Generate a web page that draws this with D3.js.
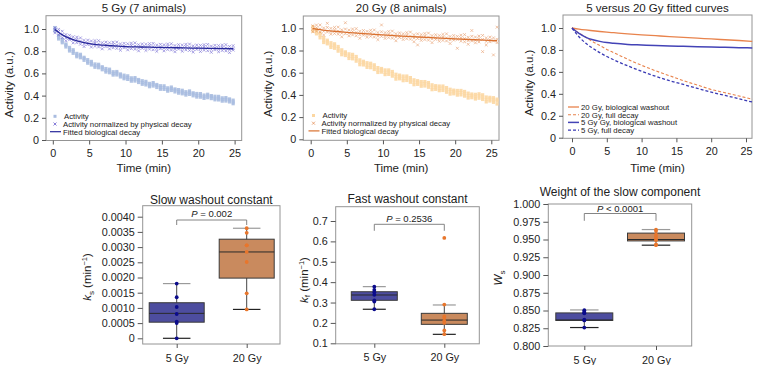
<!DOCTYPE html>
<html>
<head>
<meta charset="utf-8">
<script src="https://cdn.jsdelivr.net/npm/d3@7"></script>
<style>
  body { margin: 0; background: #fff; }
  svg { display: block; font-family: "Liberation Sans", Arial, sans-serif; }
</style>
</head>
<body>
<div id="chart"></div>
<script>
// ---- data ----
const timeTicks = [0, 5, 10, 15, 20, 25];
const actTicks  = [0, 0.2, 0.4, 0.6, 0.8, 1.0];

// 5 Gy: frame times (min) and three readings per frame
const time5 = [0.3,0.8,1.3,1.8,2.3,2.8,3.3,3.8,4.3,4.8,5.3,5.8,6.3,6.8,7.3,7.8,8.3,8.8,9.3,9.8,
  10.3,10.8,11.3,11.8,12.3,12.8,13.3,13.8,14.3,14.8,15.3,15.8,16.3,16.8,17.3,17.8,18.3,18.8,19.3,19.8,
  20.3,20.8,21.3,21.8,22.3,22.8,23.3,23.8,24.3,24.8];
const act5 = [
  [1.013,0.997,0.981],[0.940,0.924,0.910],[0.907,0.893,0.876],[0.855,0.838,0.865],[0.834,0.817,0.802],
  [0.813,0.797,0.781],[0.780,0.764,0.750],[0.772,0.758,0.741],[0.735,0.718,0.745],[0.724,0.707,0.692],
  [0.708,0.692,0.676],[0.685,0.669,0.655],[0.682,0.668,0.651],[0.650,0.633,0.660],[0.644,0.627,0.612],
  [0.638,0.622,0.606],[0.615,0.599,0.585],[0.617,0.603,0.586],[0.585,0.568,0.595],[0.584,0.567,0.552],
  [0.578,0.562,0.546],[0.560,0.544,0.530],[0.562,0.548,0.531],[0.535,0.518,0.545],[0.534,0.517,0.502],
  [0.528,0.512,0.496],[0.510,0.494,0.480],[0.517,0.503,0.486],[0.490,0.473,0.500],[0.489,0.472,0.457],
  [0.488,0.472,0.456],[0.470,0.454,0.440],[0.477,0.463,0.446],[0.450,0.433,0.460],[0.454,0.437,0.422],
  [0.448,0.432,0.416],[0.435,0.419,0.405],[0.442,0.428,0.411],[0.415,0.398,0.425],[0.419,0.402,0.387],
  [0.418,0.402,0.386],[0.405,0.389,0.375],[0.412,0.398,0.381],[0.390,0.373,0.400],[0.394,0.377,0.362],
  [0.393,0.377,0.361],[0.380,0.364,0.350],[0.382,0.368,0.351],[0.360,0.343,0.370],[0.359,0.342,0.327]
];
const norm5 = [
  [1.010,0.991,0.965],[0.977,0.947,0.997],[0.980,0.951,0.923],[0.920,0.950,0.894],[0.943,0.903,0.918],
  [0.930,0.901,0.875],[0.907,0.877,0.927],[0.920,0.891,0.863],[0.868,0.898,0.842],[0.900,0.860,0.875],
  [0.892,0.863,0.837],[0.875,0.845,0.895],[0.895,0.866,0.838],[0.847,0.877,0.821],[0.882,0.842,0.857],
  [0.876,0.847,0.821],[0.861,0.831,0.881],[0.882,0.853,0.825],[0.835,0.865,0.809],[0.871,0.831,0.846],
  [0.867,0.838,0.812],[0.853,0.823,0.873],[0.875,0.846,0.818],[0.829,0.859,0.803],[0.866,0.826,0.841],
  [0.862,0.833,0.807],[0.848,0.818,0.868],[0.870,0.841,0.813],[0.825,0.855,0.799],[0.862,0.822,0.837],
  [0.858,0.829,0.803],[0.845,0.815,0.865],[0.867,0.838,0.810],[0.821,0.851,0.795],[0.859,0.819,0.834],
  [0.855,0.826,0.800],[0.842,0.812,0.862],[0.864,0.835,0.807],[0.818,0.848,0.792],[0.856,0.816,0.831],
  [0.852,0.823,0.797],[0.839,0.809,0.859],[0.861,0.832,0.804],[0.816,0.846,0.790],[0.853,0.813,0.828],
  [0.850,0.821,0.795],[0.836,0.806,0.856],[0.859,0.830,0.802],[0.813,0.843,0.787],[0.850,0.810,0.825]
];
const fitTime5 = [0.3, 1, 2, 3, 4, 5, 6, 7, 8, 9, 10, 12, 14, 16, 18, 20, 22, 24.8];
const fit5     = [0.995, 0.96, 0.925, 0.9, 0.882, 0.869, 0.86, 0.854, 0.849, 0.845, 0.842, 0.838, 0.835, 0.832, 0.83, 0.827, 0.825, 0.822];

// 20 Gy
const time20 = [0.3,0.8,1.3,1.8,2.3,2.8,3.3,3.8,4.3,4.8,5.3,5.8,6.3,6.8,7.3,7.8,8.3,8.8,9.3,9.8,
  10.3,10.8,11.3,11.8,12.3,12.8,13.3,13.8,14.3,14.8,15.3,15.8,16.3,16.8,17.3,17.8,18.3,18.8,19.3,19.8,
  20.3,20.8,21.3,21.8,22.3,22.8,23.3,23.8,24.3,24.8,25.3,25.8];
const act20 = [
  [1.015,0.993,0.973],[0.972,0.950,0.990],[0.956,0.936,0.914],[0.894,0.916,0.872],[0.893,0.860,0.879],
  [0.870,0.848,0.828],[0.842,0.820,0.860],[0.836,0.816,0.794],[0.784,0.806,0.762],[0.788,0.755,0.774],
  [0.770,0.748,0.728],[0.747,0.725,0.765],[0.746,0.726,0.704],[0.694,0.716,0.672],[0.703,0.670,0.689],
  [0.690,0.668,0.648],[0.667,0.645,0.685],[0.671,0.651,0.629],[0.624,0.646,0.602],[0.638,0.605,0.624],
  [0.625,0.603,0.583],[0.607,0.585,0.625],[0.611,0.591,0.569],[0.564,0.586,0.542],[0.578,0.545,0.564],
  [0.570,0.548,0.528],[0.552,0.530,0.570],[0.556,0.536,0.514],[0.514,0.536,0.492],[0.528,0.495,0.514],
  [0.520,0.498,0.478],[0.502,0.480,0.520],[0.511,0.491,0.469],[0.469,0.491,0.447],[0.483,0.450,0.469],
  [0.480,0.458,0.438],[0.462,0.440,0.480],[0.466,0.446,0.424],[0.429,0.451,0.407],[0.443,0.410,0.429],
  [0.440,0.418,0.398],[0.422,0.400,0.440],[0.431,0.411,0.389],[0.394,0.416,0.372],[0.408,0.375,0.394],
  [0.405,0.383,0.363],[0.392,0.370,0.410],[0.401,0.381,0.359],[0.359,0.381,0.337],[0.378,0.345,0.364],
  [0.375,0.353,0.333],[0.362,0.318,0.345]
];
const norm20 = [
  [1.022,0.994,0.970],[1.005,0.975,1.029],[1.030,0.994,0.966],[0.973,1.003,0.940],[1.008,0.966,1.045],
  [0.999,0.971,0.947],[0.984,0.954,1.008],[1.011,0.975,0.947],[0.956,0.986,0.923],[0.993,0.951,1.050],
  [0.984,0.956,0.932],[0.970,0.940,0.994],[0.997,0.961,0.933],[0.943,0.973,0.910],[0.980,0.938,0.954],
  [0.972,0.944,0.920],[0.958,0.928,0.982],[0.985,0.949,0.921],[0.931,0.961,0.898],[0.969,0.927,1.030],
  [0.961,0.933,0.909],[0.947,0.917,0.971],[0.975,0.939,0.911],[0.921,0.951,0.888],[0.959,0.917,0.933],
  [0.951,0.923,0.899],[0.937,0.907,0.961],[0.966,0.930,0.902],[0.912,0.942,0.879],[0.950,0.908,0.850],
  [0.943,0.915,0.891],[0.929,0.899,0.953],[0.957,0.921,0.893],[0.904,0.934,0.871],[0.942,0.900,0.916],
  [0.935,0.907,0.883],[0.921,0.891,0.945],[0.950,0.914,0.886],[0.896,0.926,0.863],[0.935,0.893,0.909],
  [0.927,0.899,0.820],[0.914,0.884,0.938],[0.943,0.907,0.879],[0.889,0.919,0.856],[0.928,0.886,0.980],
  [0.921,0.893,0.869],[0.907,0.877,0.931],[0.936,0.900,0.790],[0.883,0.913,0.850],[0.921,0.879,0.895],
  [0.914,0.886,0.760],[0.901,0.871,1.010]
];
const fitTime20 = [0.3, 1, 2, 3, 4, 5, 6, 8, 10, 12, 14, 16, 18, 20, 22, 24, 25.8];
const fit20     = [1.0, 0.99, 0.982, 0.975, 0.969, 0.963, 0.958, 0.949, 0.94, 0.932, 0.925, 0.918, 0.911, 0.905, 0.899, 0.893, 0.888];

// fitted curves compared
const curveTime = [0, 1, 2, 3, 4, 5, 6, 8, 10, 12, 14, 16, 18, 20, 22, 24, 25.9];
const bio20  = [1.0, 0.99, 0.982, 0.975, 0.968, 0.962, 0.957, 0.947, 0.938, 0.93, 0.922, 0.915, 0.908, 0.9, 0.893, 0.886, 0.878];
const full20 = [1.0, 0.955, 0.915, 0.875, 0.84, 0.805, 0.775, 0.715, 0.66, 0.61, 0.565, 0.52, 0.48, 0.44, 0.41, 0.38, 0.35];
const bio5   = [1.0, 0.95, 0.915, 0.893, 0.878, 0.867, 0.86, 0.85, 0.845, 0.84, 0.836, 0.833, 0.83, 0.827, 0.824, 0.821, 0.818];
const full5  = [1.0, 0.92, 0.86, 0.815, 0.775, 0.74, 0.71, 0.655, 0.605, 0.56, 0.52, 0.485, 0.45, 0.415, 0.385, 0.355, 0.325];
const curveNames = ["20 Gy, biological washout", "20 Gy, full decay", "5 Gy Gy, biological washout", "5 Gy, full decay"];

// box plots: groups, animal values, [min, q1, median, q3, max]
const groups = ["5 Gy", "20 Gy"];
const ksTicks = [0, 0.0005, 0.001, 0.0015, 0.002, 0.0025, 0.003, 0.0035, 0.004];
const ks5  = [0.0018, 0.00135, 0.00103, 0.0008, 0.00055, 0.0005, 0];
const ks20 = [0.00362, 0.00347, 0.00306, 0.00284, 0.00251, 0.00148, 0.00095, 0.00306];
const ksStats5  = [0, 0.00053, 0.00082, 0.00117, 0.0018];
const ksStats20 = [0.00095, 0.00198, 0.00284, 0.00326, 0.00362];

const kfTicks = [0.1, 0.2, 0.3, 0.4, 0.5, 0.6, 0.7];
const kf5  = [0.378, 0.362, 0.35, 0.338, 0.31, 0.305, 0.267];
const kf20 = [0.617, 0.29, 0.232, 0.225, 0.21, 0.2, 0.163, 0.145];
const kfStats5  = [0.267, 0.311, 0.337, 0.353, 0.378];
const kfStats20 = [0.144, 0.193, 0.214, 0.247, 0.288];

const wsTicks = [0.8, 0.825, 0.85, 0.875, 0.9, 0.925, 0.95, 0.975, 1.0];
const ws5  = [0.8505, 0.848, 0.846, 0.837, 0.836, 0.826, 0.847];
const ws20 = [0.964, 0.962, 0.957, 0.954, 0.951, 0.949, 0.943, 0.942];
const wsStats5  = [0.826, 0.836, 0.8367, 0.8466, 0.8508];
const wsStats20 = [0.942, 0.948, 0.950, 0.959, 0.964];

const pLabels = ["0.002", "0.2536", "< 0.0001"];

// ---- drawing ----
const svg = d3.select("#chart").append("svg")
  .attr("width", 762).attr("height", 365);
svg.append("rect").attr("width", 762).attr("height", 365).attr("fill", "#fff");

const frameColor = "#949494", tickColor = "#555", textColor = "#222";
const legendSize = 7.8;

function styleAxis(g) {
  g.attr("font-family", null).attr("font-size", 10.8);
  g.select(".domain").remove();
  g.selectAll(".tick line").attr("stroke", tickColor);
  g.selectAll(".tick text").attr("fill", textColor);
}

function xMark(sel, s) {
  sel.attr("d", `M${-s},${-s}L${s},${s}M${-s},${s}L${s},${-s}`);
}

function timeFrame(p) {
  const x = d3.scaleLinear().domain([0, 25]).range([p.x0, p.x25]);
  const y = d3.scaleLinear().domain([0, 1]).range([p.y0, p.y1]);
  const g = svg.append("g");

  g.append("rect")
    .attr("x", p.l).attr("y", p.t).attr("width", p.r - p.l).attr("height", p.b - p.t)
    .attr("fill", "none").attr("stroke", frameColor);

  g.append("g").attr("transform", `translate(${p.l},0)`)
    .call(d3.axisLeft(y).tickValues(actTicks).tickSize(4).tickPadding(3)
      .tickFormat(d => d === 0 ? "0" : d.toFixed(1)))
    .call(styleAxis);
  g.append("g").attr("transform", `translate(0,${p.b})`)
    .call(d3.axisBottom(x).tickValues(timeTicks).tickSize(4).tickPadding(5))
    .call(styleAxis);

  g.append("text").attr("x", (p.l + p.r) / 2).attr("y", 11.5)
    .attr("text-anchor", "middle").attr("font-size", 11.5).attr("fill", textColor)
    .text(p.title);
  g.append("text").attr("x", (p.l + p.r) / 2).attr("y", 172)
    .attr("text-anchor", "middle").attr("font-size", 11.5).attr("fill", textColor)
    .text("Time (min)");
  g.append("text")
    .attr("transform", `translate(${p.yl},${(p.y0 + p.y1) / 2}) rotate(-90)`)
    .attr("text-anchor", "middle").attr("font-size", 11.5).attr("fill", textColor)
    .text("Activity (a.u.)");
  return {g, x, y};
}

function scatterPanel(p, times, act, norm, fitT, fitV) {
  const {g, x, y} = timeFrame(p);
  const actPts = [], normPts = [];
  act.forEach((row, i) => row.forEach(v => actPts.push({t: times[i], v})));
  norm.forEach((row, i) => row.forEach(v => normPts.push({t: times[i], v})));

  g.append("g").selectAll("rect").data(actPts).enter().append("rect")
    .attr("x", d => x(d.t) - 1.6).attr("y", d => y(d.v) - 1.6)
    .attr("width", 3.2).attr("height", 3.2)
    .attr("fill", p.actColor).attr("opacity", 0.9);

  g.append("g").selectAll("path").data(normPts).enter().append("path")
    .attr("transform", d => `translate(${x(d.t)},${y(d.v)})`)
    .call(xMark, 1.4)
    .attr("stroke", p.normColor).attr("stroke-width", 0.7).attr("opacity", 0.7);

  const fit = fitT.map((t, i) => ({t, v: fitV[i]}));
  g.append("path").datum(fit)
    .attr("d", d3.line().x(d => x(d.t)).y(d => y(d.v)).curve(d3.curveMonotoneX))
    .attr("fill", "none").attr("stroke", p.fitColor).attr("stroke-width", 1.3);

  // legend
  const lg = g.append("g").attr("font-size", legendSize).attr("fill", textColor);
  const step = 7.7;
  lg.append("rect").attr("x", p.lx - 1.5).attr("y", p.ly - 1.5).attr("width", 3).attr("height", 3)
    .attr("fill", p.actColor);
  lg.append("path").attr("transform", `translate(${p.lx},${p.ly + step})`).call(xMark, 1.5)
    .attr("stroke", p.normColor).attr("stroke-width", 0.7);
  lg.append("line").attr("x1", p.lx - 5).attr("x2", p.lx + 6)
    .attr("y1", p.ly + 2 * step).attr("y2", p.ly + 2 * step)
    .attr("stroke", p.fitColor).attr("stroke-width", 1.2);
  ["Activity", "Activity normalized by physical decay", "Fitted biological decay"].forEach((s, i) => {
    lg.append("text").attr("x", p.lx + (i === 0 ? 9 : 8)).attr("y", p.ly + 2.8 + i * step).text(s);
  });
}

scatterPanel({
  l: 46, t: 15.7, r: 241.7, b: 140.5, x0: 52.8, x25: 234.6, y0: 140, y1: 29, yl: 12.5,
  title: "5 Gy (7 animals)", actColor: "#a9bce0", normColor: "#5548c8", fitColor: "#26269a",
  lx: 55, ly: 116.3
}, time5, act5, norm5, fitTime5, fit5);

scatterPanel({
  l: 303.3, t: 16, r: 499, b: 140.3, x0: 310.7, x25: 491.3, y0: 139.3, y1: 28.3, yl: 272,
  title: "20 Gy (8 animals)", actColor: "#fcd7a2", normColor: "#e3864a", fitColor: "#d9702f",
  lx: 313.5, ly: 115.5
}, time20, act20, norm20, fitTime20, fit20);

// fitted curves comparison
(function () {
  const p = {l: 563, t: 15, r: 752, b: 138.3, x0: 572, x25: 746, y0: 137.7, y1: 28, yl: 532.5,
    title: "5 versus 20 Gy fitted curves"};
  const {g, x, y} = timeFrame(p);
  const series = [
    {v: bio20,  color: "#e8834c", dash: null,  w: 1.3},
    {v: full20, color: "#e8834c", dash: "3,2", w: 1.1},
    {v: bio5,   color: "#4343b6", dash: null,  w: 1.5},
    {v: full5,  color: "#3a3ab4", dash: "3,2", w: 1.3}
  ];
  const line = d3.line().x(d => x(d.t)).y(d => y(d.v)).curve(d3.curveMonotoneX);
  series.forEach(s => {
    g.append("path").datum(curveTime.map((t, i) => ({t, v: s.v[i]})))
      .attr("d", line).attr("fill", "none").attr("stroke", s.color)
      .attr("stroke-width", s.w).attr("stroke-dasharray", s.dash);
  });
  const lg = g.append("g").attr("font-size", legendSize).attr("fill", textColor);
  const rows = [107, 114.7, 122.4, 130.1];
  series.forEach((s, i) => {
    lg.append("line").attr("x1", 568).attr("x2", 579).attr("y1", rows[i]).attr("y2", rows[i])
      .attr("stroke", s.color).attr("stroke-width", s.w).attr("stroke-dasharray", s.dash);
    lg.append("text").attr("x", 581).attr("y", rows[i] + 2.8).text(curveNames[i]);
  });
})();

// box plot panels
function boxPanel(p) {
  const x = d3.scalePoint().domain(groups).range([p.c0, p.c1]);
  const y = d3.scaleLinear().domain(p.domain).range(p.range);
  const g = svg.append("g");

  g.append("rect")
    .attr("x", p.l).attr("y", p.t).attr("width", p.r - p.l).attr("height", p.b - p.t)
    .attr("fill", "none").attr("stroke", frameColor);

  g.append("g").attr("transform", `translate(${p.l},0)`)
    .call(d3.axisLeft(y).tickValues(p.ticks).tickSize(5).tickPadding(3).tickFormat(p.fmt))
    .call(styleAxis);
  g.append("g").attr("transform", `translate(0,${p.b})`)
    .call(d3.axisBottom(x).tickSize(4).tickPadding(6))
    .call(styleAxis);

  g.append("text").attr("x", (p.l + p.r) / 2).attr("y", p.titleY)
    .attr("text-anchor", "middle").attr("font-size", 12).attr("fill", textColor)
    .text(p.title);

  const yl = g.append("text")
    .attr("transform", `translate(${p.yl},${p.ylc}) rotate(-90)`)
    .attr("text-anchor", "middle").attr("font-size", 11.5).attr("fill", textColor);
  yl.append("tspan").attr("font-style", "italic").text(p.sym);
  yl.append("tspan").attr("font-size", 8).attr("dy", 2.5).text(p.sub);
  if (p.unit) {
    yl.append("tspan").attr("dy", -2.5).text(" (min");
    yl.append("tspan").attr("font-size", 7.5).attr("dy", -4).text("\u22121");
    yl.append("tspan").attr("dy", 4).text(")");
  }

  const fills = ["#4d4d9f", "#c98a5e"], dots = ["#0b0b8c", "#e8762c"];
  [p.stats5, p.stats20].forEach((s, i) => {
    const cx = x(groups[i]), hw = p.boxW / 2, cw = p.boxW / 4;
    g.append("line").attr("x1", cx).attr("x2", cx).attr("y1", y(s[0])).attr("y2", y(s[4]))
      .attr("stroke", "#444").attr("stroke-width", 1);
    g.append("rect").attr("x", cx - hw).attr("y", y(s[3]))
      .attr("width", p.boxW).attr("height", y(s[1]) - y(s[3]))
      .attr("fill", fills[i]).attr("stroke", "#3a3a3a").attr("stroke-width", 1);
    g.append("line").attr("x1", cx - hw).attr("x2", cx + hw).attr("y1", y(s[2])).attr("y2", y(s[2]))
      .attr("stroke", "#2a2a2a").attr("stroke-width", 1);
    g.append("line").attr("x1", cx - cw).attr("x2", cx + cw).attr("y1", y(s[4])).attr("y2", y(s[4]))
      .attr("stroke", "#9a9a9a").attr("stroke-width", 1.2);
    g.append("line").attr("x1", cx - cw).attr("x2", cx + cw).attr("y1", y(s[0])).attr("y2", y(s[0]))
      .attr("stroke", "#222").attr("stroke-width", 1.2);
  });
  [p.pts5, p.pts20].forEach((pts, i) => {
    g.append("g").selectAll("circle").data(pts).enter().append("circle")
      .attr("cx", x(groups[i])).attr("cy", d => y(d)).attr("r", 1.9)
      .attr("fill", dots[i]);
  });

  // significance bracket
  const bx0 = x(groups[0]), bx1 = x(groups[1]);
  g.append("path")
    .attr("d", `M${bx0},${p.brY + p.drop}V${p.brY}H${bx1}V${p.brY + p.drop}`)
    .attr("fill", "none").attr("stroke", "#777").attr("stroke-width", 0.9);
  const pt = g.append("text").attr("x", (bx0 + bx1) / 2).attr("y", p.pY)
    .attr("text-anchor", "middle").attr("font-size", 9.5).attr("fill", textColor);
  pt.append("tspan").attr("font-style", "italic").text("P");
  pt.append("tspan").text((p.pLabel.startsWith("<") ? " " : " = ") + p.pLabel);
}

boxPanel({
  l: 142.7, t: 205.7, r: 280, b: 344, c0: 176.7, c1: 246.7,
  domain: [0, 0.004], range: [338.3, 216.7], ticks: ksTicks,
  fmt: d => d === 0 ? "0" : d.toFixed(4), boxW: 55,
  title: "Slow washout constant", titleY: 203.5, yl: 91, ylc: 277, sym: "k", sub: "s", unit: true,
  stats5: ksStats5, stats20: ksStats20, pts5: ks5, pts20: ks20,
  brY: 220, drop: 5, pY: 217, pLabel: pLabels[0]
});

boxPanel({
  l: 335.7, t: 206.7, r: 479.3, b: 343.8, c0: 374.3, c1: 444.3,
  domain: [0.1, 0.7], range: [343.3, 221], ticks: kfTicks,
  fmt: d => d.toFixed(1), boxW: 46,
  title: "Fast washout constant", titleY: 203, yl: 307.5, ylc: 280, sym: "k", sub: "f", unit: true,
  stats5: kfStats5, stats20: kfStats20, pts5: kf5, pts20: kf20,
  brY: 224.3, drop: 6.5, pY: 222.3, pLabel: pLabels[1]
});

boxPanel({
  l: 548.3, t: 204, r: 691.7, b: 346, c0: 584.3, c1: 656,
  domain: [0.8, 1.0], range: [346, 204], ticks: wsTicks,
  fmt: d => d.toFixed(3), boxW: 57,
  title: "Weight of the slow component", titleY: 196, yl: 502, ylc: 278, sym: "W", sub: "s", unit: false,
  stats5: wsStats5, stats20: wsStats20, pts5: ws5, pts20: ws20,
  brY: 213.5, drop: 7.3, pY: 211.5, pLabel: pLabels[2]
});
</script>
</body>
</html>
